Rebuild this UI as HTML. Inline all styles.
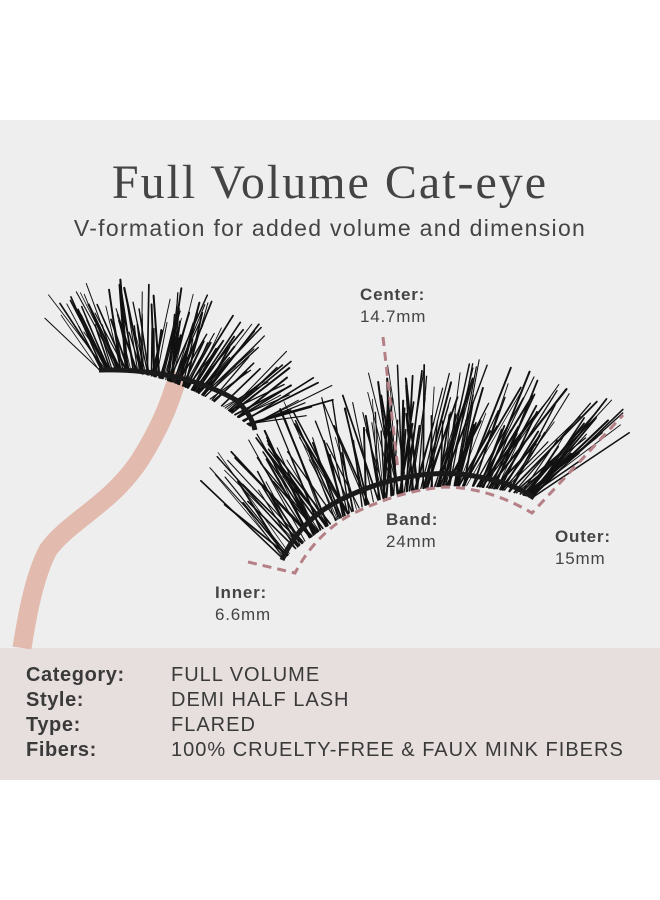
<!DOCTYPE html>
<html><head><meta charset="utf-8"><style>
html,body{margin:0;padding:0;background:#fff;}
#w{position:relative;width:660px;height:900px;overflow:hidden;background:#fff;font-family:"Liberation Sans",sans-serif;}
#g{position:absolute;left:0;top:120px;width:660px;height:528px;background:#eeeeee;}
#p{position:absolute;left:0;top:648px;width:660px;height:132px;background:#e7dfde;}
.t{position:absolute;left:0;width:660px;text-align:center;color:#444;}
.lb{position:absolute;color:#444;font-size:17px;line-height:22px;letter-spacing:0.8px;}
.lb b{display:block;}
.row{position:absolute;left:26px;font-size:20px;color:#3a3a3a;letter-spacing:0.6px;}
.row b{display:inline-block;width:145px;}
.row span{letter-spacing:1px;}
</style></head><body><div id="w">
<div id="g"></div><div id="p"></div>
<div class="t" style="top:155px;font-family:'Liberation Serif',serif;font-size:48px;letter-spacing:2px;">Full Volume Cat-eye</div>
<div class="t" style="top:215px;font-size:23px;letter-spacing:1.3px;">V-formation for added volume and dimension</div>
<svg id="s" width="660" height="900" style="position:absolute;left:0;top:0" xmlns="http://www.w3.org/2000/svg">
<path d="M179 373 C172 395 165 420 140 460 C110 505 70 520 48 550 C35 575 28 610 22 648" fill="none" stroke="#e2baae" stroke-width="19" stroke-linecap="butt"/>
<g id="lashes" stroke="#111" fill="none" stroke-linecap="round"></g>
<path d="M99 370 Q180 368 236 400 Q252 415 255 430" fill="none" stroke="#1a1a1a" stroke-width="5"/>
<path d="M282 560 Q300 520 340 500 Q400 470 460 474 Q510 480 534 498" fill="none" stroke="#1a1a1a" stroke-width="5"/>
<g stroke="#b57f86" stroke-width="3" fill="none" stroke-dasharray="9 6">
<path d="M383 337 L398 470"/>
<path d="M248 562 L295 573 Q315 535 350 515 Q400 490 446 487 Q490 488 532 513 L623 415"/>
</g>
</svg>
<div class="lb" style="left:360px;top:284px"><b>Center:</b>14.7mm</div>
<div class="lb" style="left:386px;top:509px"><b>Band:</b>24mm</div>
<div class="lb" style="left:555px;top:526px"><b>Outer:</b>15mm</div>
<div class="lb" style="left:215px;top:582px"><b>Inner:</b>6.6mm</div>
<div class="row" style="top:664px"><b>Category:</b><span>FULL VOLUME</span></div>
<div class="row" style="top:689px"><b>Style:</b><span>DEMI HALF LASH</span></div>
<div class="row" style="top:714px"><b>Type:</b><span>FLARED</span></div>
<div class="row" style="top:739px"><b>Fibers:</b><span>100% CRUELTY-FREE &amp; FAUX MINK FIBERS</span></div>
</div>
<script>
var g=document.getElementById('lashes'),seed=7;
function r(){seed=(seed*9301+49297)%233280;return seed/233280;}
function q(p0,p1,p2,t){return [(1-t)*(1-t)*p0[0]+2*(1-t)*t*p1[0]+t*t*p2[0],(1-t)*(1-t)*p0[1]+2*(1-t)*t*p1[1]+t*t*p2[1]];}
function lash(a,b,c,n,len,ang0,ang1,sp){for(var i=0;i<n;i++){var t=r(),p=q(a,b,c,t);var ang=(ang0+(ang1-ang0)*t+(r()-0.5)*sp)*Math.PI/180;var L=len*(0.45+r()*0.55);var x2=p[0]+Math.cos(ang)*L,y2=p[1]-Math.sin(ang)*L;var l=document.createElementNS('http://www.w3.org/2000/svg','line');l.setAttribute('x1',p[0]);l.setAttribute('y1',p[1]);l.setAttribute('x2',x2);l.setAttribute('y2',y2);l.setAttribute('stroke-width',(0.8+r()*1.3).toFixed(1));g.appendChild(l);}}
lash([99,370],[180,368],[255,430],140,95,125,15,25);
lash([282,560],[400,455],[534,498],220,130,135,45,25);
</script>
</body></html>
